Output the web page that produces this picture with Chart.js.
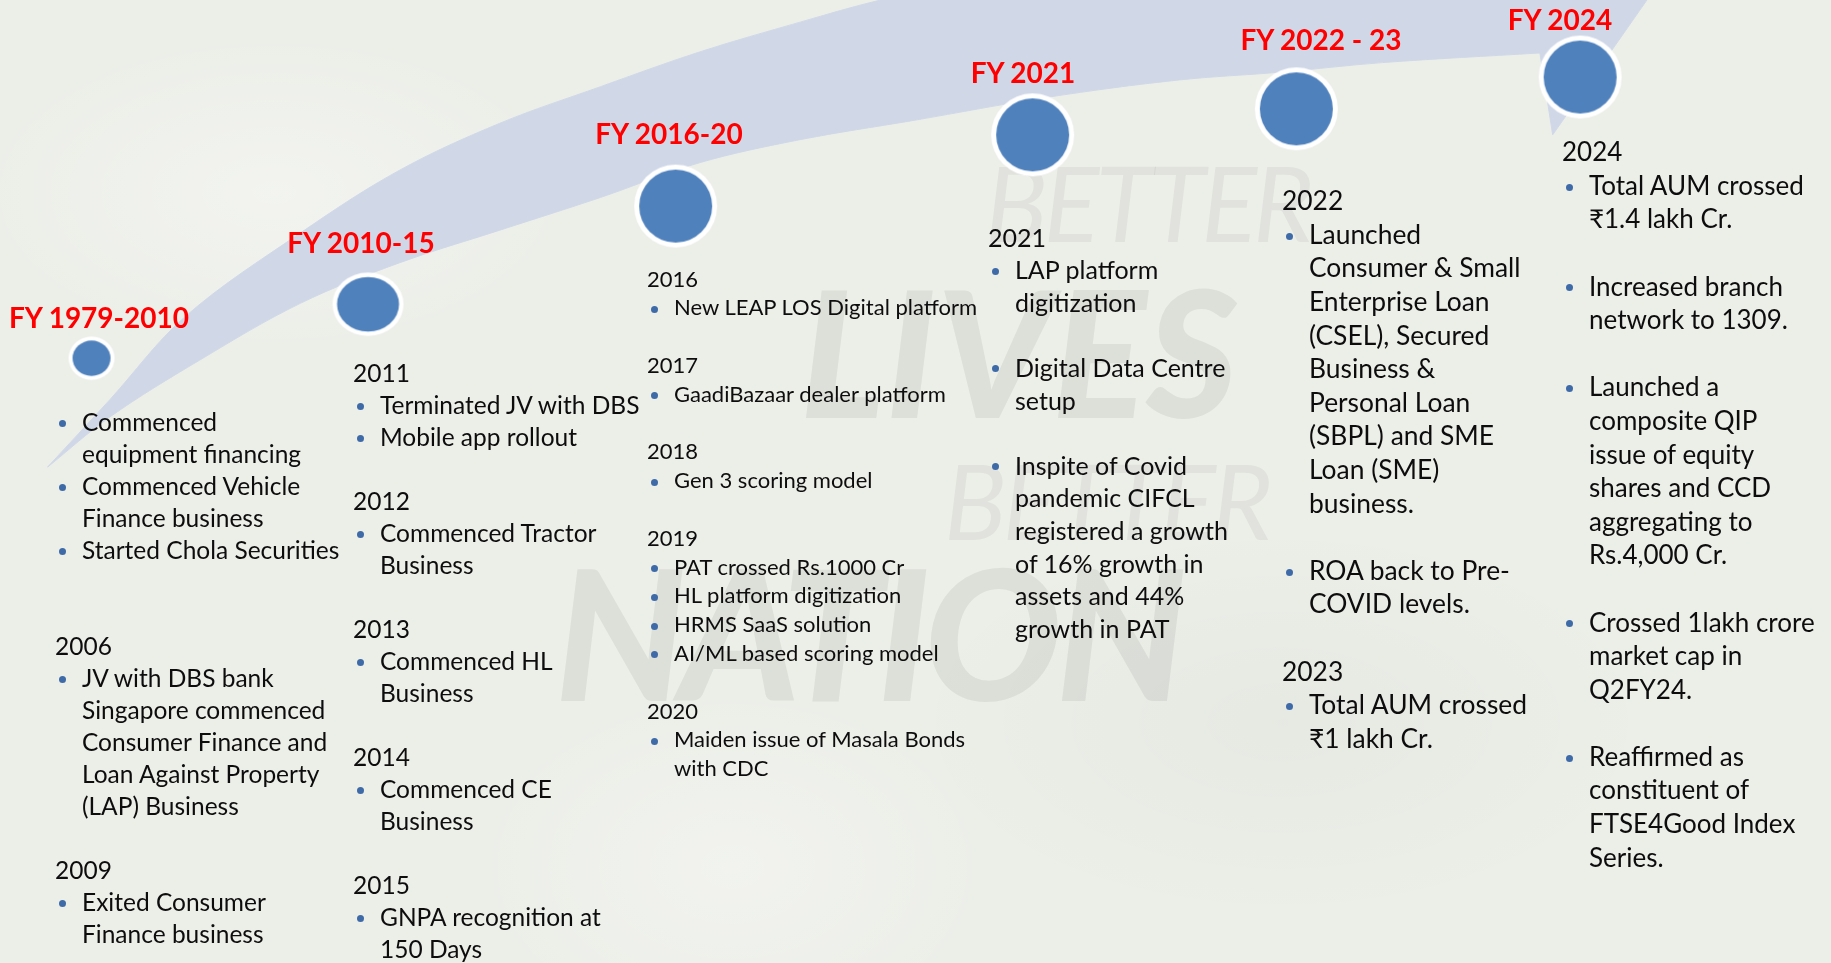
<!DOCTYPE html>
<html>
<head>
<meta charset="utf-8">
<title>Milestones timeline</title>
<script src="https://cdn.jsdelivr.net/npm/chart.js@4.4.1/dist/chart.umd.min.js"></script>
<style>
  html, body { margin: 0; padding: 0; }
  body {
    width: 1831px; height: 963px; overflow: hidden; position: relative;
    font-family: Lato, "Noto Sans", sans-serif; color: #0d0d0d;
    background:
      radial-gradient(ellipse 300px 160px at 15% 20%, rgba(255,255,255,0.35), transparent),
      radial-gradient(ellipse 380px 200px at 70% 75%, rgba(0,0,0,0.025), transparent),
      radial-gradient(ellipse 260px 180px at 40% 90%, rgba(255,255,255,0.3), transparent),
      #eceee8;
  }
  .mark { position: absolute; white-space: nowrap; font-style: italic; line-height: 1; color: rgba(40,45,40,0.075); }
  .mark.thin { font-weight: 400; color: rgba(40,45,40,0.055); }
  .mark.bold { font-weight: 900; }
  #timeline { position: absolute; left: 0; top: 0; }
  .fy { position: absolute; transform: translate(-50%, -50%); white-space: nowrap;
        font-weight: 700; font-size: 28px; line-height: 1; color: #ff0000; }
  .col { position: absolute; }
  .col div { white-space: nowrap; position: relative; }
  .col .b, .col .c { padding-left: 27px; }
  .col .b::before { content: ""; position: absolute; left: 4px; top: 50%; width: 7px; height: 7px;
        margin-top: -2px; border-radius: 50%; background: #3e6ba8; }
</style>
</head>
<body>
<div class="mark thin" style="left:985px; top:150px; font-size:104px; letter-spacing:-4px;">BETTER</div>
<div class="mark bold" style="left:800px; top:262px; font-size:176px;">LIVES</div>
<div class="mark thin" style="left:944px; top:448px; font-size:104px; letter-spacing:-4px;">BETTER</div>
<div class="mark bold" style="left:555px; top:540px; font-size:182px; letter-spacing:-6px;">NATION</div>

<canvas id="timeline" width="1831" height="963"></canvas>
<div id="labels"></div>
<div id="notes"></div>

<script>
const milestones = ['FY 1979-2010', 'FY 2010-15', 'FY 2016-20', 'FY 2021', 'FY 2022 - 23', 'FY 2024'];
// place of each milestone along the timeline (0-100) and its height on the curve (0-100)
const stepX = [5.0, 20.1, 36.9, 56.4, 70.8, 86.3];
const stepY = [62.8, 68.4, 78.6, 86.0, 88.7, 92.0];

// outline of the swoosh: tip, upper edge, arrow end, lower edge back to the tip
// (corner points are doubled so the curve stays sharp there)
const swooshX = [2.6, 2.6, 6.0, 10.1, 16.4, 21.8, 27.3, 32.8, 38.2, 43.7, 48.1, 54.6, 65.5, 79.2, 93.0, 93.0,
                 84.8, 84.8, 84.1, 84.1, 75.5, 69.9, 64.4, 57.2, 49.9, 43.7, 38.2, 32.8, 27.3, 21.8, 16.4, 10.9, 6.0, 2.6, 2.6];
const swooshY = [51.5, 51.5, 58.5, 67.1, 75.8, 82.3, 87.2, 91.0, 94.6, 97.7, 100, 102.6, 105.7, 107.8, 108.3, 108.3,
                 86.0, 86.0, 94.5, 94.5, 93.5, 92.5, 91.7, 89.9, 87.5, 85.5, 83.1, 79.5, 76.1, 72.7, 68.5, 62.6, 56.7, 51.5, 51.5];

// text under each milestone: "#" year, "* " new bullet, "  " bullet continued, "" empty line
const notes = [
  ['* Commenced', '  equipment financing', '* Commenced Vehicle', '  Finance business', '* Started Chola Securities', '', '',
   '#2006', '* JV with DBS bank', '  Singapore commenced', '  Consumer Finance and', '  Loan Against Property', '  (LAP) Business', '',
   '#2009', '* Exited Consumer', '  Finance business'],
  ['#2011', '* Terminated JV with DBS', '* Mobile app rollout', '', '#2012', '* Commenced Tractor', '  Business', '',
   '#2013', '* Commenced HL', '  Business', '', '#2014', '* Commenced CE', '  Business', '',
   '#2015', '* GNPA recognition at', '  150 Days'],
  ['#2016', '* New LEAP LOS Digital platform', '', '#2017', '* GaadiBazaar dealer platform', '', '#2018', '* Gen 3 scoring model', '',
   '#2019', '* PAT crossed Rs.1000 Cr', '* HL platform digitization', '* HRMS SaaS solution', '* AI/ML based scoring model', '',
   '#2020', '* Maiden issue of Masala Bonds', '  with CDC'],
  ['#2021', '* LAP platform', '  digitization', '', '* Digital Data Centre', '  setup', '',
   '* Inspite of Covid', '  pandemic CIFCL', '  registered a growth', '  of 16% growth in', '  assets and 44%', '  growth in PAT'],
  ['#2022', '* Launched', '  Consumer & Small', '  Enterprise Loan', '  (CSEL), Secured', '  Business &', '  Personal Loan',
   '  (SBPL) and SME', '  Loan (SME)', '  business.', '', '* ROA back to Pre-', '  COVID levels.', '',
   '#2023', '* Total AUM crossed', '  ₹1 lakh Cr.'],
  ['#2024', '* Total AUM crossed', '  ₹1.4 lakh Cr.', '', '* Increased branch', '  network to 1309.', '',
   '* Launched a', '  composite QIP', '  issue of equity', '  shares and CCD', '  aggregating to', '  Rs.4,000 Cr.', '',
   '* Crossed 1lakh crore', '  market cap in', '  Q2FY24.', '',
   '* Reaffirmed as', '  constituent of', '  FTSE4Good Index', '  Series.']
];

// styling / layout
const dotRx = [23, 35.5, 41.5, 41.5, 41.5, 41.5];
const dotRy = [21.7, 31.7, 41.5, 41.5, 41.5, 41.5];
const dotRing = [4, 4.5, 5, 5, 5, 5];
const labelCx = [99, 361, 669, 1023, 1321, 1560];
const labelCy = [317, 242, 133, 72, 39, 19];
const noteLeft = [55, 353, 647, 988, 1282, 1562];
const noteFirst = [422, 373, 279, 237, 201, 152];
const noteFont = [24.5, 24.5, 22, 25, 26.4, 26];
const notePitch = [32, 32, 28.8, 32.6, 33.6, 33.6];

function makeDot(rx, ry, ring) {
  const c = document.createElement('canvas');
  c.width = Math.ceil(rx * 2) + 2;
  c.height = Math.ceil(ry * 2) + 2;
  const g = c.getContext('2d');
  g.fillStyle = '#ffffff';
  g.beginPath();
  g.ellipse(c.width / 2, c.height / 2, rx, ry, 0, 0, Math.PI * 2);
  g.fill();
  g.fillStyle = '#4f81bd';
  g.beginPath();
  g.ellipse(c.width / 2, c.height / 2, rx - ring, ry - ring, 0, 0, Math.PI * 2);
  g.fill();
  return c;
}

const dots = dotRx.map((rx, i) => makeDot(rx, dotRy[i], dotRing[i]));

new Chart(document.getElementById('timeline'), {
  type: 'scatter',
  data: {
    datasets: [
      {
        label: 'milestones',
        data: stepX.map((x, i) => ({ x: x, y: stepY[i] })),
        pointStyle: dots,
        pointRadius: dotRx,
        order: 0
      },
      {
        label: 'swoosh',
        data: swooshX.map((x, i) => ({ x: x, y: swooshY[i] })),
        showLine: true,
        fill: 'shape',
        tension: 0.35,
        backgroundColor: '#d0d8e8',
        borderColor: '#d0d8e8',
        borderWidth: 1,
        pointRadius: 0,
        order: 1
      }
    ]
  },
  options: {
    responsive: false,
    devicePixelRatio: 1,
    animation: false,
    events: [],
    layout: { padding: 0, autoPadding: false },
    scales: {
      x: { type: 'linear', min: 0, max: 100, display: false },
      y: { type: 'linear', min: 0, max: 100, display: false }
    },
    plugins: { legend: { display: false }, tooltip: { enabled: false } }
  }
});

const labelBox = document.getElementById('labels');
milestones.forEach((name, i) => {
  const d = document.createElement('div');
  d.className = 'fy';
  d.textContent = name;
  d.style.left = labelCx[i] + 'px';
  d.style.top = labelCy[i] + 'px';
  labelBox.appendChild(d);
});

const noteBox = document.getElementById('notes');
notes.forEach((lines, i) => {
  const col = document.createElement('div');
  col.className = 'col';
  col.style.left = noteLeft[i] + 'px';
  col.style.top = (noteFirst[i] - notePitch[i] / 2) + 'px';
  col.style.fontSize = noteFont[i] + 'px';
  lines.forEach(t => {
    const row = document.createElement('div');
    row.style.height = notePitch[i] + 'px';
    row.style.lineHeight = notePitch[i] + 'px';
    if (t.startsWith('#')) {
      row.textContent = t.slice(1);
    } else if (t.startsWith('* ')) {
      row.className = 'b';
      row.textContent = t.slice(2);
    } else if (t.startsWith('  ')) {
      row.className = 'c';
      row.textContent = t.slice(2);
    } else {
      row.innerHTML = '&nbsp;';
    }
    col.appendChild(row);
  });
  noteBox.appendChild(col);
});
</script>
</body>
</html>
